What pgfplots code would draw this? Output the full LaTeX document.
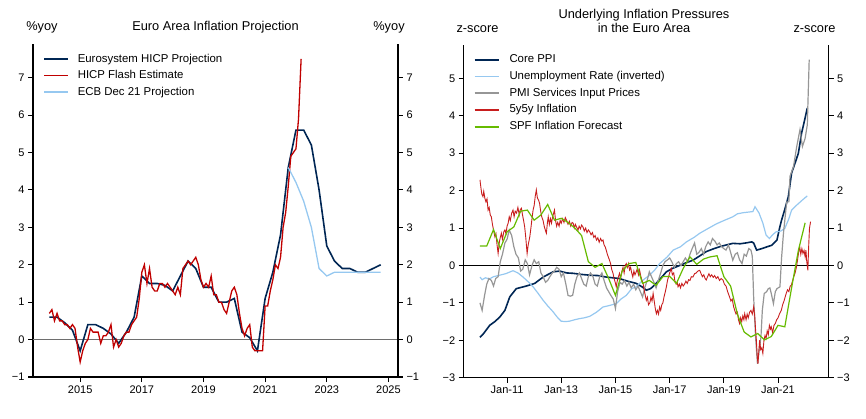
\documentclass[border=0pt]{standalone}
\usepackage{fontspec}
\setmainfont{Liberation Sans}
\usepackage{pgfplots}
\pgfplotsset{compat=1.18}
\definecolor{navy}{RGB}{0,38,84}
\definecolor{hred}{RGB}{192,0,0}
\definecolor{lblue}{RGB}{150,200,240}
\definecolor{pgray}{RGB}{150,150,150}
\definecolor{lred}{RGB}{200,30,30}
\definecolor{sgreen}{RGB}{102,187,0}
\pgfplotsset{
  base/.style={scale only axis, width=365pt, height=333pt,
    tick align=outside, major tick length=5pt,
    tick style={black, line width=1pt},
    axis line style={black, line width=1.3pt},
    ticklabel style={font=\fontsize{11}{13}\selectfont},
    minor tick num=0},
  leg/.style={legend style={draw=none, fill=none, inner sep=0pt,
      at={(axis description cs:0.0274,0.972)}, anchor=north west,
      font=\fontsize{11.4}{13}\selectfont,
      nodes={inner sep=0pt, text height=8.5pt, text depth=2.5pt},
      row sep=5.5pt, column sep=9pt},
    legend cell align=left,
    legend image code/.code={\draw[##1, line width=1.6pt] (0pt,0pt) -- (24pt,0pt);}},
}
\begin{document}
\begin{tikzpicture}
\useasboundingbox (0,0) rectangle (866pt,418pt);
\node[anchor=base, font=\fontsize{12.8}{14}\selectfont] at (215.5pt,387.1pt) {Euro Area Inflation Projection};
\node[anchor=base, font=\fontsize{12.8}{14}\selectfont] at (42pt,387.1pt) {\%yoy};
\node[anchor=base, font=\fontsize{12.8}{14}\selectfont] at (389pt,387.1pt) {\%yoy};
\node[anchor=base, font=\fontsize{12.8}{14}\selectfont] at (644pt,399pt) {Underlying Inflation Pressures};
\node[anchor=base, font=\fontsize{12.8}{14}\selectfont] at (644pt,385.5pt) {in the Euro Area};
\node[anchor=base, font=\fontsize{12.8}{14}\selectfont] at (477.5pt,385.7pt) {z-score};
\node[anchor=base, font=\fontsize{12.8}{14}\selectfont] at (814.5pt,385.7pt) {z-score};

% ---------------- Left panel ----------------
\begin{axis}[base, leg, at={(33pt,41pt)}, anchor=south west,
  xmin=2013.47, xmax=2025.31, ymin=-1, ymax=7.9,
  axis y line*=left, axis x line*=bottom,
  x axis line style={shorten <=-5pt, shorten >=-5pt},
  xtick={2015,2017,2019,2021,2023,2025},
  xticklabels={2015,2017,2019,2021,2023,2025},
  ytick={-1,0,1,2,3,4,5,6,7},
  yticklabels={−1,0,1,2,3,4,5,6,7}]
\addplot[forget plot, color={rgb,255:red,110;green,110;blue,110}, line width=1.3pt] coordinates {(2013.47,0) (2025.31,0)};
\addplot[navy, line width=1.6pt] coordinates {
(2014.00,0.6) (2014.25,0.6) (2014.50,0.45) (2014.75,0.25) (2015.00,-0.3)
(2015.25,0.4) (2015.50,0.4) (2015.75,0.3) (2016.00,0.15) (2016.25,-0.1)
(2016.50,0.2) (2016.75,0.6) (2017.00,1.7) (2017.25,1.5) (2017.50,1.5)
(2017.75,1.45) (2018.00,1.3) (2018.25,1.7) (2018.50,2.1) (2018.75,1.9)
(2019.00,1.4) (2019.25,1.4) (2019.50,1.0) (2019.75,1.0) (2020.00,1.1)
(2020.25,0.2) (2020.50,0.05) (2020.75,-0.3) (2021.00,1.1) (2021.25,1.8)
(2021.50,2.8) (2021.75,4.6) (2022.00,5.6) (2022.25,5.6) (2022.50,5.2)
(2022.75,4.0) (2023.00,2.5) (2023.25,2.1) (2023.50,1.9) (2023.75,1.9)
(2024.00,1.8) (2024.25,1.8) (2024.50,1.9) (2024.75,2.0)};
\addlegendentry{Eurosystem HICP Projection}
\addplot[hred, line width=1.3pt] coordinates {
(2014.000,0.7) (2014.083,0.8) (2014.167,0.5) (2014.250,0.7) (2014.333,0.5) (2014.417,0.5)
(2014.500,0.4) (2014.583,0.4) (2014.667,0.3) (2014.750,0.4) (2014.833,0.3) (2014.917,-0.2)
(2015.000,-0.6) (2015.083,-0.3) (2015.167,-0.1) (2015.250,0.0) (2015.333,0.3) (2015.417,0.2)
(2015.500,0.2) (2015.583,0.2) (2015.667,-0.1) (2015.750,0.1) (2015.833,0.1) (2015.917,0.2)
(2016.000,0.4) (2016.083,-0.2) (2016.167,0.0) (2016.250,-0.2) (2016.333,-0.1) (2016.417,0.1)
(2016.500,0.2) (2016.583,0.2) (2016.667,0.4) (2016.750,0.5) (2016.833,0.6) (2016.917,1.1)
(2017.000,1.8) (2017.083,2.0) (2017.167,1.5) (2017.250,1.9) (2017.333,1.4) (2017.417,1.3)
(2017.500,1.3) (2017.583,1.5) (2017.667,1.5) (2017.750,1.4) (2017.833,1.5) (2017.917,1.4)
(2018.000,1.3) (2018.083,1.2) (2018.167,1.4) (2018.250,1.2) (2018.333,1.9) (2018.417,2.0)
(2018.500,2.1) (2018.583,2.0) (2018.667,2.1) (2018.750,2.2) (2018.833,2.0) (2018.917,1.6)
(2019.000,1.4) (2019.083,1.5) (2019.167,1.4) (2019.250,1.7) (2019.333,1.2) (2019.417,1.2)
(2019.500,1.0) (2019.583,1.0) (2019.667,0.8) (2019.750,0.7) (2019.833,1.0) (2019.917,1.3)
(2020.000,1.4) (2020.083,1.2) (2020.167,0.7) (2020.250,0.3) (2020.333,0.1) (2020.417,0.3)
(2020.500,0.4) (2020.583,-0.2) (2020.667,-0.3) (2020.750,-0.3) (2020.833,-0.3) (2020.917,-0.3)
(2021.000,0.9) (2021.083,0.9) (2021.167,1.3) (2021.250,1.6) (2021.333,2.0) (2021.417,1.9)
(2021.500,2.2) (2021.583,3.0) (2021.667,3.4) (2021.750,4.1) (2021.833,4.9) (2021.917,5.0)
(2022.000,5.1) (2022.083,5.9) (2022.167,7.5)};
\addlegendentry{HICP Flash Estimate}
\addplot[lblue, line width=1.3pt] coordinates {
(2021.75,4.6) (2022.00,4.2) (2022.25,3.7) (2022.50,3.0) (2022.75,1.9)
(2023.00,1.7) (2023.25,1.8) (2023.50,1.8) (2023.75,1.8) (2024.00,1.8)
(2024.25,1.8) (2024.50,1.8) (2024.75,1.8)};
\addlegendentry{ECB Dec 21 Projection}
\end{axis}
\begin{axis}[base, at={(33pt,41pt)}, anchor=south west,
  xmin=2013.47, xmax=2025.31, ymin=-1, ymax=7.9,
  axis y line*=right, hide x axis,
  ytick={-1,0,1,2,3,4,5,6,7},
  yticklabels={−1,0,1,2,3,4,5,6,7}]
\addplot[draw=none, forget plot] coordinates {(2014,0)};
\end{axis}

% ---------------- Right panel ----------------
\begin{axis}[base, leg, at={(463.7pt,40.3pt)}, anchor=south west,
  xmin=2009.40, xmax=2022.87, ymin=-3, ymax=5.9,
  axis y line*=left, axis x line*=bottom,
  x axis line style={shorten <=-1pt, shorten >=-1pt},
  xtick={2011,2013,2015,2017,2019,2021},
  xticklabels={Jan-11,Jan-13,Jan-15,Jan-17,Jan-19,Jan-21},
  ytick={-3,-2,-1,0,1,2,3,4,5},
  yticklabels={−3,−2,−1,0,1,2,3,4,5},
  legend style={row sep=5.75pt, column sep=10pt}]
\addplot[forget plot, black, line width=0.9pt] coordinates {(2009.40,0) (2022.87,0)};
\addplot[navy, line width=1.6pt] coordinates {
(2010.00,-1.92) (2010.10,-1.85) (2010.36,-1.6) (2010.55,-1.5) (2010.73,-1.38) (2010.92,-1.2)
(2011.10,-0.84) (2011.34,-0.62) (2011.71,-0.55) (2012.02,-0.48) (2012.33,-0.31)
(2012.70,-0.17) (2012.94,-0.15) (2013.20,-0.2) (2013.44,-0.21) (2013.75,-0.24) (2014.05,-0.26)
(2014.35,-0.27) (2014.66,-0.31) (2014.90,-0.33) (2015.15,-0.35) (2015.45,-0.42) (2015.77,-0.48)
(2016.00,-0.58) (2016.14,-0.66) (2016.30,-0.62) (2016.50,-0.48) (2016.70,-0.32) (2016.88,-0.17)
(2017.10,-0.08) (2017.37,0.0) (2017.60,0.07) (2017.86,0.14) (2018.10,0.25) (2018.35,0.37)
(2018.60,0.44) (2018.84,0.5) (2019.10,0.55) (2019.33,0.59) (2019.60,0.58) (2019.80,0.6)
(2020.03,0.63) (2020.10,0.6) (2020.21,0.41) (2020.40,0.45) (2020.60,0.5) (2020.77,0.54)
(2020.96,0.68) (2021.07,1.04) (2021.13,1.21) (2021.25,1.5) (2021.38,1.84) (2021.50,2.47)
(2021.62,2.72) (2021.75,3.0) (2021.87,3.54) (2021.97,3.85) (2022.08,4.21)};
\addlegendentry{Core PPI}
\addplot[lblue, line width=1.2pt] coordinates {
(2010.00,-0.31) (2010.08,-0.38) (2010.20,-0.33) (2010.35,-0.36) (2010.50,-0.3) (2010.73,-0.26)
(2010.95,-0.22) (2011.22,-0.14) (2011.40,-0.2) (2011.59,-0.31) (2011.80,-0.45) (2011.96,-0.57)
(2012.15,-0.75) (2012.33,-0.93) (2012.50,-1.08) (2012.70,-1.24) (2012.85,-1.38) (2013.00,-1.49)
(2013.15,-1.5) (2013.30,-1.49) (2013.50,-1.45) (2013.68,-1.42) (2013.85,-1.4) (2014.05,-1.36)
(2014.30,-1.25) (2014.54,-1.11) (2014.78,-1.07) (2015.03,-1.02) (2015.20,-0.9) (2015.40,-0.8)
(2015.60,-0.62) (2015.77,-0.57) (2016.00,-0.4) (2016.26,-0.26) (2016.45,-0.12) (2016.63,0.05)
(2016.90,0.22) (2017.13,0.41) (2017.40,0.5) (2017.62,0.63) (2017.90,0.75) (2018.11,0.86)
(2018.40,0.98) (2018.72,1.11) (2019.00,1.2) (2019.33,1.3) (2019.50,1.38) (2019.71,1.41)
(2019.95,1.43) (2020.07,1.44) (2020.15,1.57) (2020.30,1.4) (2020.44,1.13) (2020.56,0.81)
(2020.68,0.72) (2020.80,0.82) (2020.93,0.9) (2021.10,0.92) (2021.25,0.99) (2021.40,1.25)
(2021.50,1.48) (2021.70,1.62) (2021.90,1.75) (2022.08,1.86)};
\addlegendentry{Unemployment Rate (inverted)}
\addplot[pgray, line width=1.2pt] coordinates {
(2010.00,-1.0) (2010.08,-1.2) (2010.17,-0.8) (2010.25,-0.5) (2010.33,-0.35) (2010.42,-0.4)
(2010.50,-0.55) (2010.58,-0.35) (2010.67,-0.3) (2010.75,0.1) (2010.83,0.3) (2010.92,0.6)
(2011.00,0.7) (2011.08,0.95) (2011.17,0.8) (2011.25,0.5) (2011.33,0.3) (2011.42,0.2)
(2011.50,-0.15) (2011.58,-0.1) (2011.67,0.15) (2011.75,0.05) (2011.83,-0.25) (2011.92,0.0)
(2012.00,0.15) (2012.08,0.05) (2012.17,0.1) (2012.25,-0.2) (2012.33,-0.3) (2012.42,-0.45)
(2012.50,-0.4) (2012.58,-0.3) (2012.67,-0.2) (2012.75,-0.15) (2012.83,-0.05) (2012.92,-0.1)
(2013.00,-0.3) (2013.08,-0.2) (2013.17,-0.5) (2013.25,-0.8) (2013.33,-0.82) (2013.42,-0.8)
(2013.50,-0.5) (2013.58,-0.3) (2013.67,-0.2) (2013.75,-0.35) (2013.83,-0.5) (2013.92,-0.55)
(2014.00,-0.3) (2014.08,-0.2) (2014.17,-0.3) (2014.25,-0.5) (2014.33,-0.55) (2014.42,-0.3)
(2014.50,-0.2) (2014.58,-0.4) (2014.67,-0.6) (2014.75,-0.7) (2014.83,-0.8) (2014.92,-0.9)
(2015.00,-1.15) (2015.08,-0.7) (2015.17,-0.45) (2015.25,-0.5) (2015.33,-0.4) (2015.42,-0.55)
(2015.50,-0.45) (2015.58,-0.6) (2015.67,-0.5) (2015.75,-0.65) (2015.83,-0.55) (2015.92,-0.7)
(2016.00,-0.84) (2016.08,-0.6) (2016.17,-0.4) (2016.25,-0.17) (2016.33,-0.3) (2016.42,-0.45)
(2016.50,-0.6) (2016.58,-0.4) (2016.67,-0.2) (2016.75,0.0) (2016.83,0.1) (2016.92,0.15)
(2017.00,0.2) (2017.08,0.1) (2017.17,-0.05) (2017.25,0.05) (2017.33,0.1) (2017.42,0.0)
(2017.50,0.1) (2017.58,0.2) (2017.67,0.1) (2017.75,0.3) (2017.83,0.45) (2017.92,0.6)
(2018.00,0.3) (2018.08,0.35) (2018.17,0.45) (2018.25,0.3) (2018.33,0.5) (2018.42,0.63)
(2018.50,0.55) (2018.58,0.72) (2018.67,0.65) (2018.75,0.55) (2018.83,0.6) (2018.92,0.5)
(2019.00,0.45) (2019.08,0.41) (2019.17,0.55) (2019.25,0.35) (2019.33,0.14) (2019.42,0.3)
(2019.50,0.34) (2019.58,0.15) (2019.67,0.05) (2019.75,0.3) (2019.83,0.25) (2019.92,0.45)
(2020.00,0.41) (2020.05,0.25) (2020.10,-0.84) (2020.17,-1.9) (2020.24,-2.63) (2020.30,-2.3)
(2020.37,-1.91) (2020.42,-1.2) (2020.49,-0.75) (2020.58,-0.7) (2020.64,-0.62) (2020.70,-0.6)
(2020.75,-0.75) (2020.83,-1.02) (2020.90,-0.7) (2020.96,-0.62) (2021.07,-0.57) (2021.13,0.2)
(2021.20,0.86) (2021.32,1.7) (2021.40,1.7) (2021.44,2.38) (2021.57,2.64) (2021.69,3.18)
(2021.81,3.63) (2021.90,3.18) (2022.00,3.4) (2022.08,3.76) (2022.15,5.5)};
\addlegendentry{PMI Services Input Prices}
\addplot[lred, line width=0.9pt] coordinates {
(2010.00,2.29) (2010.04,2.05) (2010.07,1.90) (2010.11,1.84) (2010.14,1.98) (2010.18,1.80)
(2010.22,1.70) (2010.26,1.78) (2010.30,1.48) (2010.34,1.55) (2010.38,1.35) (2010.42,1.30)
(2010.46,1.10) (2010.50,0.95) (2010.55,0.77) (2010.59,0.85) (2010.63,0.55) (2010.67,0.32)
(2010.71,0.60) (2010.75,0.75) (2010.79,0.86) (2010.83,0.70) (2010.88,0.90) (2010.92,0.95)
(2010.96,0.85) (2011.00,1.05) (2011.04,1.13) (2011.08,1.30) (2011.12,1.20) (2011.17,1.40)
(2011.22,1.48) (2011.26,1.30) (2011.30,1.45) (2011.35,1.40) (2011.40,1.55) (2011.45,1.35)
(2011.49,1.50) (2011.53,1.53) (2011.57,1.35) (2011.61,1.20) (2011.65,1.03) (2011.69,0.75)
(2011.74,0.32) (2011.78,0.55) (2011.84,0.77) (2011.88,1.00) (2011.92,1.25) (2011.96,1.48)
(2012.00,1.60) (2012.04,1.85) (2012.08,2.02) (2012.12,1.80) (2012.16,1.75) (2012.20,1.66)
(2012.24,1.45) (2012.28,1.30) (2012.33,1.20) (2012.37,1.05) (2012.41,0.95) (2012.45,0.86)
(2012.49,1.15) (2012.52,1.30) (2012.56,1.10) (2012.60,1.25) (2012.64,1.13) (2012.68,1.30)
(2012.72,1.40) (2012.75,1.48) (2012.79,1.20) (2012.83,1.05) (2012.87,1.15) (2012.92,1.05)
(2012.96,1.20) (2013.00,1.13) (2013.05,1.25) (2013.10,1.15) (2013.15,1.28) (2013.20,1.20)
(2013.25,1.10) (2013.30,1.18) (2013.35,1.05) (2013.40,1.15) (2013.44,1.13) (2013.48,1.00)
(2013.52,1.10) (2013.57,1.02) (2013.62,0.95) (2013.66,1.05) (2013.71,0.98) (2013.75,1.08)
(2013.80,1.03) (2013.85,0.92) (2013.90,1.00) (2013.95,0.88) (2014.00,0.95) (2014.05,0.90)
(2014.10,0.82) (2014.15,0.88) (2014.20,0.75) (2014.25,0.80) (2014.30,0.68) (2014.35,0.74)
(2014.40,0.62) (2014.45,0.72) (2014.50,0.65) (2014.54,0.68) (2014.58,0.55) (2014.62,0.50)
(2014.66,0.41) (2014.70,0.30) (2014.74,0.22) (2014.78,0.14) (2014.82,0.05) (2014.86,-0.10)
(2014.91,-0.21) (2014.95,-0.35) (2014.99,-0.45) (2015.03,-0.57) (2015.07,-0.40) (2015.11,-0.30)
(2015.15,-0.21) (2015.19,-0.35) (2015.24,-0.15) (2015.28,-0.05) (2015.32,-0.20) (2015.36,0.00)
(2015.40,0.05) (2015.44,-0.05) (2015.48,0.05) (2015.52,-0.12) (2015.56,-0.05) (2015.60,-0.20)
(2015.64,-0.31) (2015.68,-0.15) (2015.72,-0.25) (2015.75,-0.20) (2015.80,-0.10) (2015.85,-0.25)
(2015.89,-0.12) (2015.94,-0.30) (2015.98,-0.40) (2016.02,-0.48) (2016.06,-0.65) (2016.10,-0.80)
(2016.14,-0.93) (2016.18,-0.85) (2016.22,-1.05) (2016.27,-1.00) (2016.31,-0.85) (2016.35,-0.95)
(2016.39,-0.75) (2016.43,-0.95) (2016.47,-1.15) (2016.51,-1.29) (2016.55,-1.20) (2016.59,-1.30)
(2016.63,-1.11) (2016.67,-1.20) (2016.71,-1.05) (2016.75,-1.00) (2016.79,-0.85) (2016.84,-0.70)
(2016.88,-0.57) (2016.92,-0.40) (2016.96,-0.30) (2017.00,-0.20) (2017.06,-0.08) (2017.10,-0.25)
(2017.15,-0.20) (2017.19,-0.40) (2017.24,-0.50) (2017.28,-0.45) (2017.31,-0.57) (2017.36,-0.50)
(2017.40,-0.60) (2017.45,-0.48) (2017.50,-0.55) (2017.55,-0.50) (2017.60,-0.42) (2017.65,-0.48)
(2017.70,-0.38) (2017.75,-0.40) (2017.80,-0.30) (2017.86,-0.31) (2017.92,-0.22) (2017.98,-0.20)
(2018.04,-0.15) (2018.11,-0.13) (2018.16,-0.22) (2018.21,-0.30) (2018.26,-0.25) (2018.31,-0.35)
(2018.35,-0.39) (2018.40,-0.30) (2018.45,-0.22) (2018.50,-0.30) (2018.55,-0.25) (2018.61,-0.32)
(2018.66,-0.27) (2018.72,-0.35) (2018.78,-0.30) (2018.84,-0.40) (2018.90,-0.35) (2018.97,-0.39)
(2019.02,-0.50) (2019.08,-0.55) (2019.14,-0.70) (2019.21,-0.84) (2019.26,-0.95) (2019.31,-0.90)
(2019.36,-1.10) (2019.40,-1.20) (2019.45,-1.30) (2019.50,-1.25) (2019.54,-1.45) (2019.58,-1.55)
(2019.62,-1.40) (2019.66,-1.50) (2019.70,-1.35) (2019.74,-1.45) (2019.77,-1.29) (2019.82,-1.45)
(2019.86,-1.30) (2019.90,-1.40) (2019.95,-1.25) (2020.00,-1.20) (2020.05,-1.30) (2020.10,-1.11)
(2020.14,-1.35) (2020.17,-1.70) (2020.20,-2.00) (2020.23,-2.40) (2020.26,-2.63) (2020.29,-2.30)
(2020.32,-2.00) (2020.36,-2.25) (2020.40,-2.20) (2020.44,-2.35) (2020.48,-2.00) (2020.52,-1.87)
(2020.56,-1.95) (2020.60,-1.75) (2020.64,-1.85) (2020.68,-1.60) (2020.72,-1.70) (2020.75,-1.64)
(2020.80,-1.80) (2020.85,-1.60) (2020.90,-1.55) (2020.95,-1.45) (2021.00,-1.40) (2021.05,-1.30)
(2021.12,-1.20) (2021.17,-1.05) (2021.22,-0.95) (2021.26,-0.85) (2021.30,-0.75) (2021.35,-0.65)
(2021.40,-0.70) (2021.45,-0.55) (2021.49,-0.53) (2021.54,-0.40) (2021.58,-0.30) (2021.63,-0.20)
(2021.68,-0.04) (2021.72,0.15) (2021.76,0.35) (2021.80,0.50) (2021.84,0.30) (2021.88,0.45)
(2021.92,0.32) (2021.96,0.40) (2022.00,0.23) (2022.03,0.41) (2022.06,0.10) (2022.10,-0.13)
(2022.13,0.50) (2022.16,0.99) (2022.20,1.17)};
\addlegendentry{5y5y Inflation}
\addplot[sgreen, line width=1.2pt] coordinates {
(2010.00,0.52) (2010.25,0.52) (2010.50,0.96) (2010.75,0.45) (2011.00,0.9) (2011.25,1.03)
(2011.50,1.45) (2011.75,1.48) (2012.00,1.21) (2012.25,1.35) (2012.50,1.63) (2012.75,1.21)
(2013.00,1.26) (2013.25,1.15) (2013.50,1.0) (2013.75,0.8) (2014.00,0.1) (2014.25,-0.05)
(2014.50,0.05) (2014.75,-0.35) (2015.00,-0.8) (2015.25,-0.15) (2015.50,0.05) (2015.75,0.08)
(2016.00,-0.48) (2016.25,-0.4) (2016.50,-0.53) (2016.75,-0.3) (2017.00,-0.29) (2017.25,-0.48)
(2017.50,-0.08) (2017.75,0.23) (2018.00,0.03) (2018.25,0.17) (2018.50,0.23) (2018.75,0.26)
(2019.00,-0.3) (2019.25,-0.55) (2019.50,-1.3) (2019.75,-1.78) (2020.00,-1.91) (2020.25,-1.82)
(2020.50,-1.99) (2020.75,-1.9) (2021.00,-1.6) (2021.25,-1.64) (2021.50,-0.6) (2021.75,0.4)
(2022.00,1.14)};
\addlegendentry{SPF Inflation Forecast}
\end{axis}
\begin{axis}[base, at={(463.7pt,40.3pt)}, anchor=south west,
  xmin=2009.40, xmax=2022.87, ymin=-3, ymax=5.9,
  axis y line*=right, hide x axis,
  ytick={-3,-2,-1,0,1,2,3,4,5},
  yticklabels={−3,−2,−1,0,1,2,3,4,5}]
\addplot[draw=none, forget plot] coordinates {(2015,0)};
\end{axis}
\end{tikzpicture}
\end{document}
